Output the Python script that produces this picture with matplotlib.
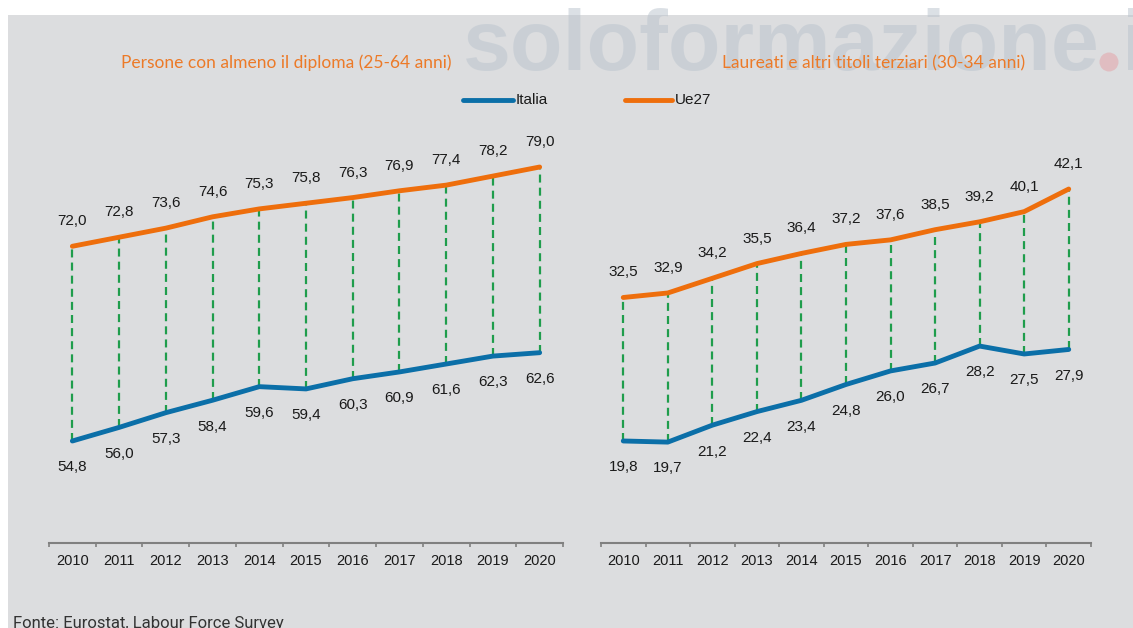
import matplotlib
matplotlib.use("Agg")
import matplotlib.pyplot as plt
from matplotlib.patches import Rectangle, Ellipse

# dati
anni = ['2010', '2011', '2012', '2013', '2014', '2015', '2016', '2017', '2018', '2019', '2020']
diploma_italia = [54.8, 56.0, 57.3, 58.4, 59.6, 59.4, 60.3, 60.9, 61.6, 62.3, 62.6]
diploma_ue27 = [72.0, 72.8, 73.6, 74.6, 75.3, 75.8, 76.3, 76.9, 77.4, 78.2, 79.0]
laureati_italia = [19.8, 19.7, 21.2, 22.4, 23.4, 24.8, 26.0, 26.7, 28.2, 27.5, 27.9]
laureati_ue27 = [32.5, 32.9, 34.2, 35.5, 36.4, 37.2, 37.6, 38.5, 39.2, 40.1, 42.1]

titolo_sx = 'Persone con almeno il diploma (25-64 anni)'
titolo_dx = 'Laureati e altri titoli terziari (30-34 anni)'
fonte = 'Fonte: Eurostat, Labour Force Survey'

BLU = '#0b6fa8'
ARANCIO = '#ee6e0c'
VERDE = '#1f9d4c'
SFONDO = '#dcdddf'

W, H = 1133, 628
fig = plt.figure(figsize=(W / 100, H / 100), dpi=100, facecolor='white')
plt.rcParams['font.family'] = ['Liberation Sans', 'DejaVu Sans']

# sfondo grigio
fig.patches.append(Rectangle((8 / W, 0), 1 - 8 / W, (H - 15) / H, transform=fig.transFigure,
                             facecolor=SFONDO, edgecolor='none', zorder=-5))

# watermark
fig.text(463 / W, 1 - 70 / H, 'soloformazione', fontsize=62, fontweight='bold',
         color='#b9c3cd', alpha=0.5, va='baseline', ha='left', zorder=-1)
fig.patches.append(Ellipse((1109 / W, 1 - 62 / H), 19 / W, 19 / H, transform=fig.transFigure,
                           facecolor='#e3a9ae', alpha=0.6, edgecolor='none', zorder=-1))
fig.text(1122 / W, 1 - 70 / H, 'it', fontsize=62, fontweight='bold',
         color='#b9c3cd', alpha=0.5, va='baseline', ha='left', zorder=-1)


def pannello(x0, x1, ylim, italia, ue27):
    top, bottom = 100, 543
    ax = fig.add_axes([x0 / W, 1 - bottom / H, (x1 - x0) / W, (bottom - top) / H])
    ax.set_facecolor('none')
    x = list(range(len(anni)))
    # linee tratteggiate verdi tra le due serie
    for i in x:
        ax.plot([i, i], [italia[i], ue27[i]], color=VERDE, lw=1.6, dashes=(3.6, 2.3), zorder=2)
    ax.plot(x, ue27, color=ARANCIO, lw=3.5, solid_capstyle='round', zorder=3)
    ax.plot(x, italia, color=BLU, lw=3.5, solid_capstyle='round', zorder=3)
    for i in x:
        ax.annotate(f'{ue27[i]:.1f}'.replace('.', ','), (i, ue27[i]), xytext=(0, 18),
                    textcoords='offset points', ha='center', va='center', fontsize=11, color='#1a1a1a')
        ax.annotate(f'{italia[i]:.1f}'.replace('.', ','), (i, italia[i]), xytext=(0, -19),
                    textcoords='offset points', ha='center', va='center', fontsize=11, color='#1a1a1a')
    ax.set_xlim(-0.5, len(anni) - 0.5)
    ax.set_ylim(*ylim)
    for s in ['top', 'right', 'left']:
        ax.spines[s].set_visible(False)
    ax.spines['bottom'].set_color('#808080')
    ax.spines['bottom'].set_linewidth(1.5)
    ax.set_yticks([])
    ax.set_xticks(x)
    ax.set_xticklabels(anni, fontsize=10.5, color='#1a1a1a')
    ax.tick_params(axis='x', length=0, pad=8)
    ax.set_xticks([i - 0.5 for i in range(len(anni) + 1)], minor=True)
    ax.tick_params(axis='x', which='minor', length=3, width=1.2, color='#808080')
    return ax


pannello(49, 563, (45.79, 84.92), diploma_italia, diploma_ue27)
pannello(601, 1091, (10.77, 49.98), laureati_italia, laureati_ue27)

# titoli
fig.text(286 / W, 1 - 63 / H, titolo_sx, fontsize=12.5, color='#ec7a28', family='Lato',
         ha='center', va='center')
fig.text(874 / W, 1 - 63 / H, titolo_dx, fontsize=12.5, color='#ec7a28', family='Lato',
         ha='center', va='center')

# legenda
fig.lines.append(plt.Line2D([463 / W, 513 / W], [1 - 100 / H] * 2, transform=fig.transFigure,
                            color=BLU, lw=3.5, solid_capstyle='round'))
fig.text(516 / W, 1 - 100 / H, 'Italia', fontsize=11, va='center', ha='left', color='#1a1a1a')
fig.lines.append(plt.Line2D([625 / W, 672 / W], [1 - 100 / H] * 2, transform=fig.transFigure,
                            color=ARANCIO, lw=3.5, solid_capstyle='round'))
fig.text(675 / W, 1 - 100 / H, 'Ue27', fontsize=11, va='center', ha='left', color='#1a1a1a')

# fonte
fig.text(13 / W, 1 - 616 / H, fonte, fontsize=12, family='Roboto', color='#333333',
         va='top', ha='left')

fig.savefig('out.png', dpi=100, facecolor='white')
